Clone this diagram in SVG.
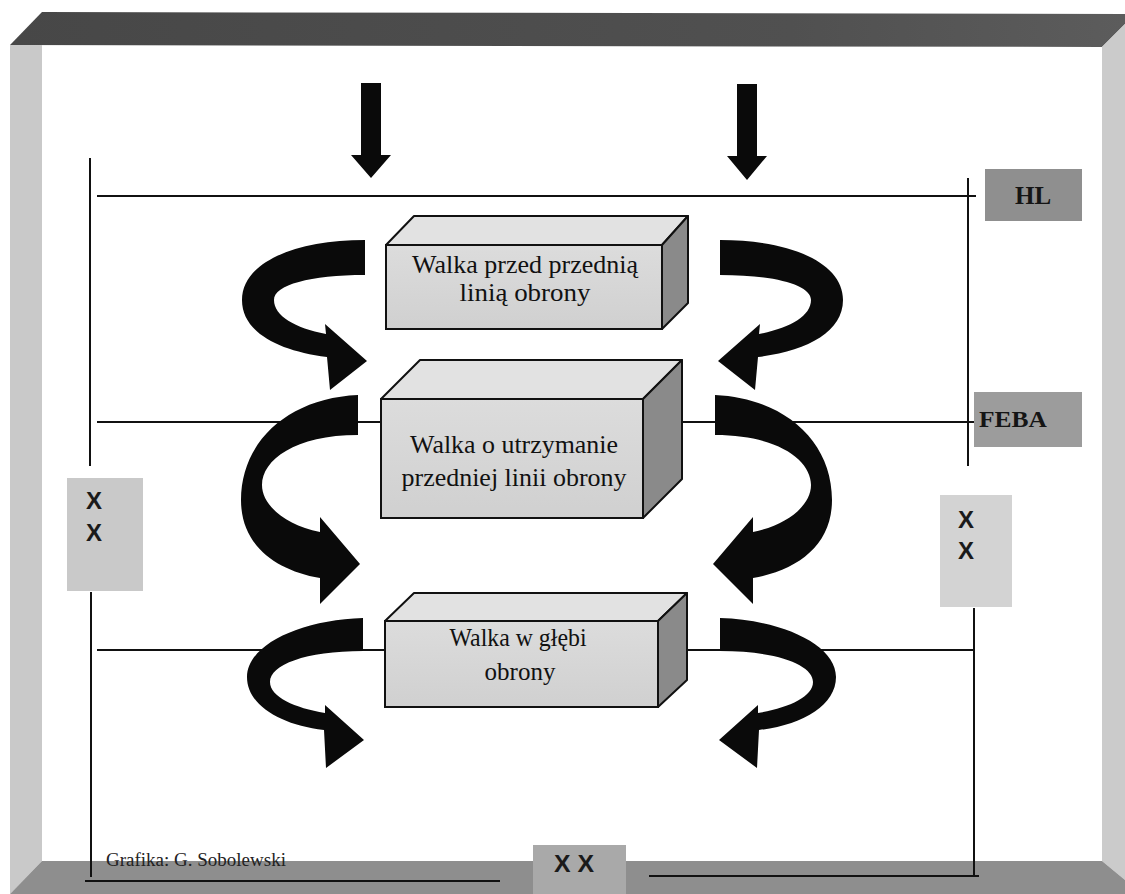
<svg xmlns="http://www.w3.org/2000/svg" width="1125" height="894" viewBox="0 0 1125 894">
<style>
.ln{stroke:#111;stroke-width:2;fill:none}
.arr{fill:#0a0a0a}
.front{fill:url(#gFront);stroke:#111;stroke-width:2}
.top{fill:#e2e2e2;stroke:#111;stroke-width:2;stroke-linejoin:round}
.side{fill:#8a8a8a;stroke:#111;stroke-width:2;stroke-linejoin:round}
.bt{font-family:"Liberation Serif","Times New Roman",serif;fill:#111;text-anchor:middle}
.lab{font-family:"Liberation Serif","Times New Roman",serif;font-weight:bold;fill:#151515}
.x{font-family:"Liberation Sans",Arial,sans-serif;font-weight:bold;fill:#1a1a1a;text-anchor:middle}
</style>
<defs>
<linearGradient id="gFront" x1="0" y1="0" x2="0" y2="1">
<stop offset="0" stop-color="#dcdcdc"/>
<stop offset="1" stop-color="#d0d0d0"/>
</linearGradient>
<linearGradient id="gTopBand" x1="0" y1="0" x2="1" y2="0">
<stop offset="0" stop-color="#474747"/>
<stop offset="0.7" stop-color="#505050"/>
<stop offset="1" stop-color="#5c5c5c"/>
</linearGradient>
</defs>
<rect width="1125" height="894" fill="#ffffff"/>
<g id="frame">
<polygon points="42,12 1125,14 1125,24 1102,47 10,45" fill="url(#gTopBand)"/>
<polygon points="10,45 42,45 42,861 10,894" fill="#c9c9c9"/>
<polygon points="1102,47 1125,24 1125,880 1102,861" fill="#cbcbcb"/>
<polygon points="42,861 1102,861 1125,880 1125,894 10,894" fill="#8e8e8e"/>
</g>
<g id="connectors">
<line class="ln" x1="90" y1="158" x2="90" y2="466"/>
<line class="ln" x1="91" y1="592" x2="91" y2="877"/>
<line class="ln" x1="968" y1="178" x2="968" y2="466"/>
<line class="ln" x1="974" y1="608" x2="974" y2="876"/>
<line class="ln" x1="97" y1="196" x2="976" y2="196"/>
<line class="ln" x1="97" y1="422" x2="975" y2="422"/>
<line class="ln" x1="97" y1="650" x2="974" y2="650"/>
<line class="ln" x1="85" y1="881" x2="500" y2="881"/>
<line class="ln" x1="649" y1="876" x2="979" y2="876"/>
<polygon class="arr" points="361,83 381,83 381,155 391,155 371,178 351,155 361,155"/>
<polygon class="arr" points="737,84 757,84 757,156 767,156 747,180 727,156 737,156"/>
<path id="a1" class="arr" d="M365,240 C296,240 242,262 242,300 C242,332 278,351 327,357 L330,390 L367,361 L325,324 L326,334 C295,328 274,316 274,300 C274,285 310,275 365,275 Z"/>
<path id="a3" class="arr" transform="translate(1085,0) scale(-1,1)" d="M365,240 C296,240 242,262 242,300 C242,332 278,351 327,357 L330,390 L367,361 L325,324 L326,334 C295,328 274,316 274,300 C274,285 310,275 365,275 Z"/>
<path id="a2" class="arr" d="M358,395 C290,398 241,440 241,500 C241,545 275,570 320,578 L320,604 L360,564 L320,517 L320,532 C285,525 262,505 262,485 C262,460 295,435 358,435 Z"/>
<path id="a4" class="arr" transform="translate(1073,0) scale(-1,1)" d="M358,395 C290,398 241,440 241,500 C241,545 275,570 320,578 L320,604 L360,564 L320,517 L320,532 C285,525 262,505 262,485 C262,460 295,435 358,435 Z"/>
<path id="a5" class="arr" d="M363,618 C300,620 247,645 247,677 C247,705 280,725 324,730 L326,768 L364,740 L325,705 L325,713 C295,708 270,697 270,682 C270,665 305,651 363,651 Z"/>
<path id="a6" class="arr" transform="translate(1083,0) scale(-1,1)" d="M363,618 C300,620 247,645 247,677 C247,705 280,725 324,730 L326,768 L364,740 L325,705 L325,713 C295,708 270,697 270,682 C270,665 305,651 363,651 Z"/>
</g>
<g id="box1">
<polygon class="top" points="386,245 414,216 688,216 662,245"/>
<polygon class="side" points="662,245 688,216 688,303 662,329"/>
<rect class="front" x="386" y="245" width="276" height="84"/>
<text class="bt" x="525" y="273" font-size="25" textLength="226" lengthAdjust="spacingAndGlyphs">Walka przed przednią</text>
<text class="bt" x="525" y="301" font-size="25" textLength="131" lengthAdjust="spacingAndGlyphs">linią obrony</text>
</g>
<g id="box2">
<polygon class="top" points="381,399 420,360 682,360 643,399"/>
<polygon class="side" points="643,399 682,360 682,479 643,518"/>
<rect class="front" x="381" y="399" width="262" height="119"/>
<text class="bt" x="514" y="453" font-size="26" textLength="208" lengthAdjust="spacingAndGlyphs">Walka o utrzymanie</text>
<text class="bt" x="514" y="486" font-size="26" textLength="225" lengthAdjust="spacingAndGlyphs">przedniej linii obrony</text>
</g>
<g id="box3">
<polygon class="top" points="385,621 414,593 687,593 658,621"/>
<polygon class="side" points="658,621 687,593 687,680 658,707"/>
<rect class="front" x="385" y="621" width="273" height="86"/>
<text class="bt" x="518" y="646" font-size="25" textLength="137" lengthAdjust="spacingAndGlyphs">Walka w głębi</text>
<text class="bt" x="520" y="680" font-size="25">obrony</text>
</g>
<g id="hl">
<rect x="985" y="169" width="97" height="52" fill="#8f8f8f"/>
<text class="lab" x="1033" y="204" font-size="25" text-anchor="middle">HL</text>
</g>
<g id="feba">
<rect x="974" y="392" width="108" height="55" fill="#9c9c9c"/>
<text class="lab" x="979" y="427" font-size="23" textLength="68" lengthAdjust="spacingAndGlyphs">FEBA</text>
</g>
<g id="xx-left">
<rect x="67" y="478" width="76" height="113" fill="#c9c9c9"/>
<text class="x" x="94" y="509" font-size="24">X</text>
<text class="x" x="94" y="541" font-size="24">X</text>
</g>
<g id="xx-right">
<rect x="940" y="495" width="72" height="112" fill="#d3d3d3"/>
<text class="x" x="966" y="528" font-size="24">X</text>
<text class="x" x="966" y="559" font-size="24">X</text>
</g>
<g id="xx-bottom">
<rect x="533" y="845" width="93" height="49" fill="#a9a9a9"/>
<text class="x" x="574" y="872" font-size="24" textLength="40" lengthAdjust="spacingAndGlyphs">X X</text>
</g>
<g id="credit">
<text x="106" y="866" font-family="'Liberation Serif','Times New Roman',serif" font-size="19" fill="#222">Grafika: G. Sobolewski</text>
</g>
</svg>
